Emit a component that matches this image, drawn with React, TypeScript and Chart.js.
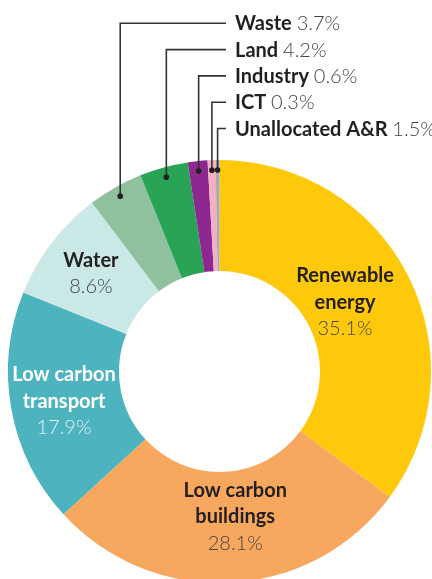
import React, { useEffect, useRef } from "react";
import { Chart, registerables } from "chart.js";

Chart.register(...registerables);

// Categories in clockwise order starting at 12 o'clock
const categories = [
  "Renewable energy",
  "Low carbon buildings",
  "Low carbon transport",
  "Water",
  "Waste",
  "Land",
  "Industry",
  "ICT",
  "Unallocated A&R",
];
// Slice sizes as drawn in the picture (%)
const sliceValues = [35.1, 28.1, 17.9, 8.6, 4.2, 3.7, 1.5, 0.6, 0.3];
// Percent labels as printed in the picture
const percentLabels = ["35.1%", "28.1%", "17.9%", "8.6%", "3.7%", "4.2%", "0.6%", "0.3%", "1.5%"];
const sliceColors = [
  "#FFC90B",
  "#F7A85E",
  "#4DB3BF",
  "#C9E8E6",
  "#8FC19F",
  "#29A457",
  "#8E2891",
  "#F4AFC3",
  "#A9ABAF",
];
// Inside labels (first four slices), split into lines
const insideLines = [["Renewable", "energy"], ["Low carbon", "buildings"], ["Low carbon", "transport"], ["Water"]];
const insideWhite = [false, false, true, false];
const insideRadius = [144, 145, 158, 162];
const insideNudge = [[-3, -5], [8, 0], [0, 1], [0, 0]];

const FONT = "Lato, 'Open Sans', sans-serif";

const labelPlugin = {
  id: "labels",
  afterDraw(chart: any) {
    const ctx = chart.ctx as CanvasRenderingContext2D;
    const arcs = chart.getDatasetMeta(0).data as any[];
    ctx.save();
    // inside labels
    insideLines.forEach((lines, i) => {
      const a = arcs[i];
      const mid = (a.startAngle + a.endAngle) / 2;
      const r = insideRadius[i];
      const cx = a.x + Math.cos(mid) * r + insideNudge[i][0];
      const cy = a.y + Math.sin(mid) * r + insideNudge[i][1];
      const all = [...lines, percentLabels[i]];
      const gap = 26.5;
      ctx.textAlign = "center";
      ctx.textBaseline = "alphabetic";
      all.forEach((t, k) => {
        const y = cy + (k - (all.length - 1) / 2) * gap + 7;
        const isPct = k === all.length - 1;
        ctx.font = (isPct ? "300 " : "bold ") + "20px " + FONT;
        ctx.fillStyle = insideWhite[i]
          ? isPct
            ? "rgba(255,255,255,0.8)"
            : "#ffffff"
          : isPct
          ? "#444444"
          : "#231F20";
        ctx.fillText(t, cx, y);
      });
    });
    // outside labels with leader lines
    const firstY = 23.3;
    const step = 26.3;
    const lineEndX = 226;
    const textX = 235;
    for (let i = 4; i < categories.length; i++) {
      const a = arcs[i];
      const mid = (a.startAngle + a.endAngle) / 2;
      const r = a.outerRadius - 10;
      const dx = a.x + Math.cos(mid) * r;
      const dy = a.y + Math.sin(mid) * r;
      const ly = firstY + (i - 4) * step;
      ctx.strokeStyle = "#333333";
      ctx.lineWidth = 1.6;
      ctx.beginPath();
      ctx.moveTo(dx, dy);
      ctx.lineTo(dx, ly);
      ctx.lineTo(lineEndX, ly);
      ctx.stroke();
      ctx.fillStyle = "#231F20";
      ctx.beginPath();
      ctx.arc(dx, dy, 2.8, 0, Math.PI * 2);
      ctx.fill();
      ctx.textAlign = "left";
      ctx.textBaseline = "alphabetic";
      ctx.font = "bold 20px " + FONT;
      ctx.fillStyle = "#231F20";
      const name = categories[i];
      ctx.fillText(name, textX, ly + 7);
      const w = ctx.measureText(name + " ").width;
      ctx.font = "300 20px " + FONT;
      ctx.fillStyle = "#444444";
      ctx.fillText(percentLabels[i], textX + w, ly + 7);
    }
    ctx.restore();
  },
};

export default function App() {
  const ref = useRef<HTMLCanvasElement | null>(null);
  useEffect(() => {
    if (!ref.current) return;
    const chart = new Chart(ref.current, {
      type: "doughnut",
      data: {
        labels: categories,
        datasets: [
          {
            data: sliceValues,
            backgroundColor: sliceColors,
            borderWidth: 0,
          },
        ],
      },
      options: {
        responsive: false,
        animation: false,
        cutout: "47.5%",
        layout: { padding: { left: 8, right: 1, top: 160, bottom: 17 } },
        plugins: {
          legend: { display: false },
          tooltip: { enabled: false },
        },
      },
      plugins: [labelPlugin],
    });
    return () => chart.destroy();
  }, []);
  return (
    <div
      style={{
        position: "fixed",
        left: 0,
        top: 0,
        width: 432,
        height: 579,
        overflow: "hidden",
        background: "#ffffff",
      }}
    >
      <canvas ref={ref} width={432} height={600} style={{ display: "block" }} />
    </div>
  );
}
